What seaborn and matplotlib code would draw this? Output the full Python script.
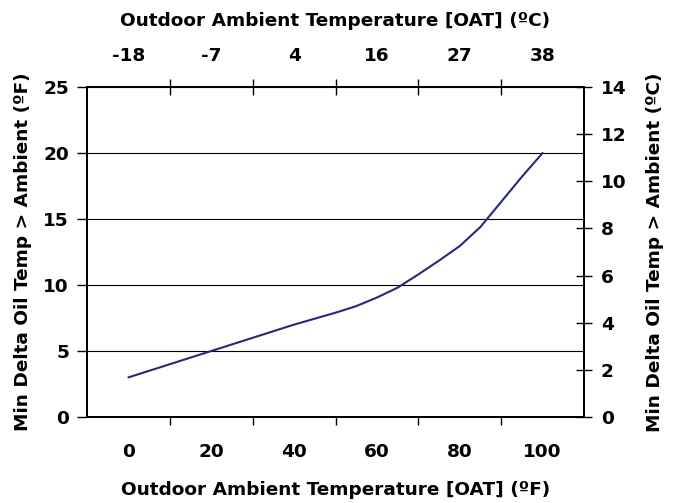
import numpy as np
import pandas as pd
import matplotlib
matplotlib.use("Agg")
import matplotlib.pyplot as plt
import seaborn as sns
from matplotlib.ticker import FixedLocator, NullFormatter

# data
oat_f = [0, 10, 20, 30, 40, 50, 55, 60, 65, 70, 75, 80, 85, 90, 95, 100]
delta_f = [3.0, 4.0, 5.0, 6.0, 7.0, 7.9, 8.4, 9.05, 9.8, 10.8, 11.85, 12.95, 14.4, 16.3, 18.2, 20.0]
f_ticks = [0, 20, 40, 60, 80, 100]
f_delta_ticks = [0, 5, 10, 15, 20, 25]
c_tick_labels = ["-18", "-7", "4", "16", "27", "38"]
c_delta_ticks = [0, 2, 4, 6, 8, 10, 12, 14]

df = pd.DataFrame({"OAT_F": oat_f, "Delta_F": delta_f})

sns.set_style("white")
plt.rcParams["font.family"] = ["DejaVu Sans"]
plt.rcParams["font.weight"] = "bold"
plt.rcParams["text.color"] = "black"
plt.rcParams["axes.labelcolor"] = "black"
plt.rcParams["xtick.color"] = "black"
plt.rcParams["ytick.color"] = "black"

FS = 13.3

fig = plt.figure(figsize=(6.76, 5.03), dpi=100)
ax = fig.add_axes([87 / 676, 1 - 417 / 503, (584 - 87) / 676, (417 - 87) / 503])

sns.lineplot(data=df, x="OAT_F", y="Delta_F", ax=ax, color="#27297a", linewidth=1.5)

ax.set_xlim(-10, 110)
ax.set_ylim(0, 25)
ax.set_yticks(f_delta_ticks)
ax.yaxis.grid(True, color="black", linewidth=0.8)
ax.set_axisbelow(True)

# labels sit between tick marks (category style)
ax.set_xticks(f_ticks)
ax.xaxis.set_minor_locator(FixedLocator([10, 30, 50, 70, 90]))
ax.xaxis.set_minor_formatter(NullFormatter())
ax.tick_params(axis="x", which="major", length=0, pad=19, labelsize=FS)
ax.tick_params(axis="x", which="minor", length=6, width=1, direction="out", bottom=True)
ax.tick_params(axis="y", length=7, width=1, direction="out", pad=6, labelsize=FS, left=True)

for s in ax.spines.values():
    s.set_color("black")
    s.set_linewidth(1.3)

ax.set_xlabel("Outdoor Ambient Temperature [OAT] (ºF)", fontsize=FS, fontweight="bold", labelpad=14)
ax.set_ylabel("Min Delta Oil Temp > Ambient (ºF)", fontsize=FS, fontweight="bold", labelpad=8)

# top axis in Celsius
axt = ax.twiny()
axt.set_xlim(ax.get_xlim())
axt.set_xticks(f_ticks)
axt.set_xticklabels(c_tick_labels)
axt.xaxis.set_minor_locator(FixedLocator([10, 30, 50, 70, 90]))
axt.xaxis.set_minor_formatter(NullFormatter())
axt.tick_params(axis="x", which="major", length=0, pad=16, labelsize=FS)
axt.tick_params(axis="x", which="minor", length=12, width=1, direction="inout", top=True)
axt.set_xlabel("Outdoor Ambient Temperature [OAT] (ºC)", fontsize=FS, fontweight="bold", labelpad=15)

# right axis in Celsius
axr = ax.twinx()
axr.set_ylim(0, 14)
axr.set_yticks(c_delta_ticks)
axr.tick_params(axis="y", length=12, width=1, direction="inout", pad=6, labelsize=FS, right=True)
axr.set_ylabel("Min Delta Oil Temp > Ambient (ºC)", fontsize=FS, fontweight="bold", labelpad=14)

for a in (axt, axr):
    for s in a.spines.values():
        s.set_color("black")
        s.set_linewidth(1.3)

fig.savefig("out.png", dpi=100)
